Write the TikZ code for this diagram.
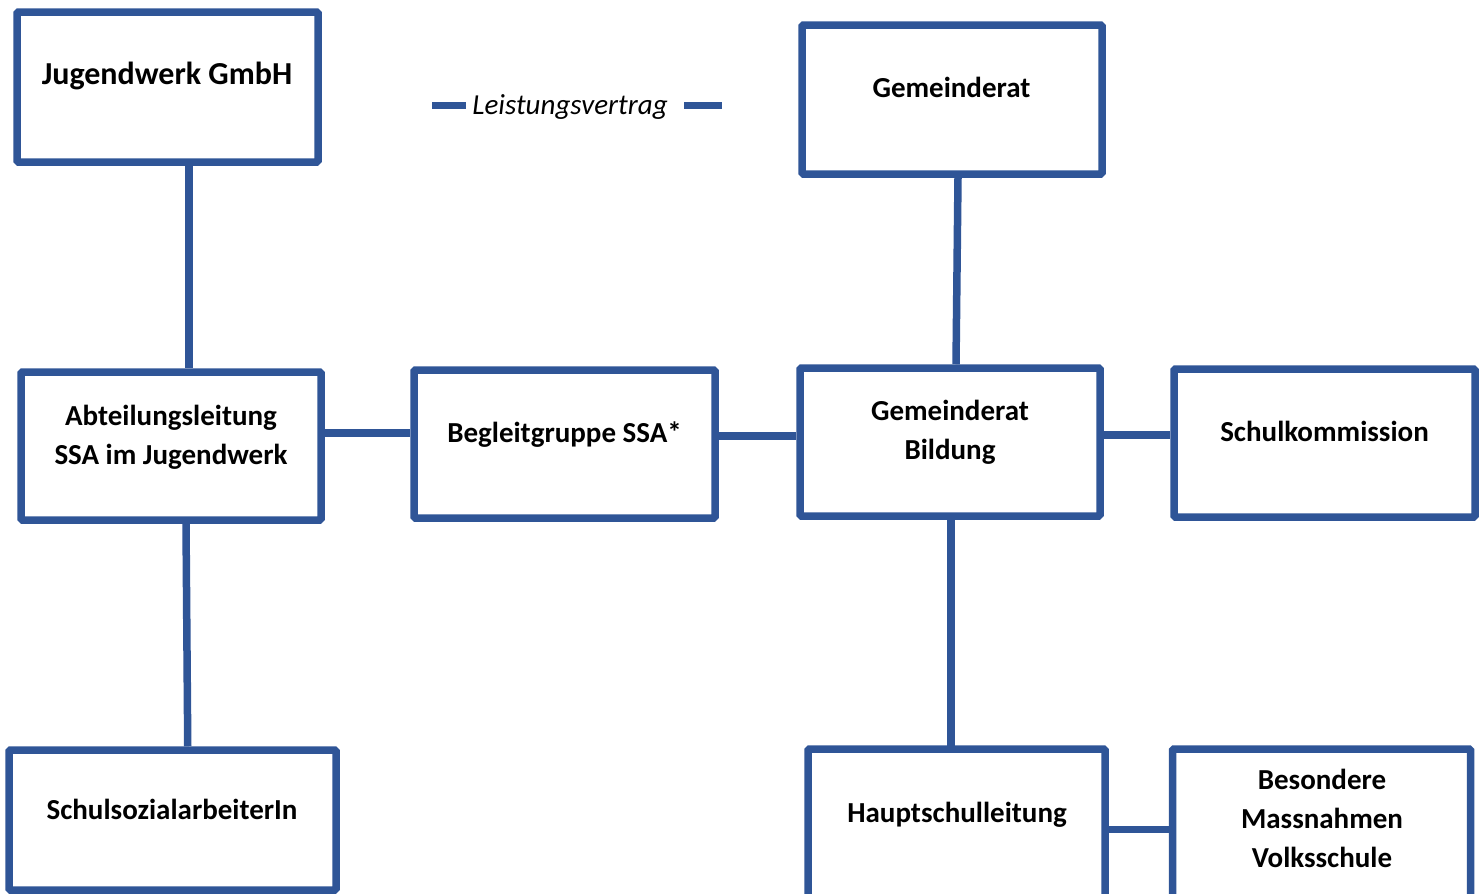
\documentclass[tikz,border=0pt]{standalone}
\usepackage{fontspec}
\setmainfont{Carlito}
\definecolor{ob}{RGB}{47,85,151}
\begin{document}
\begin{tikzpicture}[x=1pt,y=-1pt,
  box/.style={draw=ob, line width=7.5pt, rounded corners=1.5pt, fill=white, inner sep=0pt},
  lbl/.style={font=\fontsize{29}{39}\selectfont\bfseries, align=center, inner sep=0pt, anchor=base},
  conn/.style={draw=ob, line width=7.5pt}]
\useasboundingbox (0,0) rectangle (1483,894);

% boxes
\node[box, minimum width=301pt, minimum height=150pt] (jw) at (167.5,87) {};
\node[box, minimum width=300pt, minimum height=149pt] (gr) at (952,99.5) {};
\node[box, minimum width=300pt, minimum height=148pt] (al) at (171,446) {};
\node[box, minimum width=301pt, minimum height=148pt] (bg) at (564.5,444) {};
\node[box, minimum width=300pt, minimum height=148pt] (gb) at (950,442) {};
\node[box, minimum width=301pt, minimum height=148pt] (sk) at (1324.5,443) {};
\node[box, minimum width=327pt, minimum height=140pt] (ss) at (172.5,820) {};
\node[box, minimum width=297pt, minimum height=161pt] (hs) at (956.5,829.5) {};
\node[box, minimum width=298pt, minimum height=161pt] (bm) at (1321.5,829.5) {};

% texts (multi-line nodes: base = last line)
\node[lbl, font=\fontsize{32}{39}\selectfont\bfseries] (tjw) at (167,84) {Jugendwerk GmbH};
\node[lbl] (tgr) at (951.5,97) {Gemeinderat};
\node[lbl] (tal) at (171,464) {Abteilungsleitung\\SSA im Jugendwerk};
\node[lbl] (tbg) at (564.5,442) {Begleitgruppe SSA*};
\node[lbl] (tgb) at (950,459) {Gemeinderat\\Bildung};
\node[lbl] (tsk) at (1324.5,441) {Schulkommission};
\node[lbl] (tss) at (172,819) {SchulsozialarbeiterIn};
\node[lbl] (ths) at (957,822) {Hauptschulleitung};
\node[lbl] (tbm) at (1322,867) {Besondere\\Massnahmen\\Volksschule};

% legend
\node[font=\fontsize{29}{35}\selectfont\itshape, inner sep=0pt, anchor=base] (lv) at (570,114) {Leistungsvertrag};
\coordinate (la1) at (432,105);
\coordinate (la2) at (466,105);
\coordinate (lb1) at (684,105);
\coordinate (lb2) at (722,105);
\draw[conn, line width=7pt] (la1) -- (la2);
\draw[conn, line width=7pt] (lb1) -- (lb2);

% connectors
\draw[conn] ([xshift=21.5pt]jw.south) -- ([xshift=18pt]al.north);
\draw[conn] ([xshift=15pt]al.south) -- ([xshift=15.25pt]ss.north);
\draw[conn] ([yshift=13pt]al.east) -- ([yshift=11pt]bg.west);
\draw[conn] ([yshift=8pt]bg.east) -- ([yshift=6pt]gb.west);
\draw[conn] ([xshift=6pt]gr.south) -- ([xshift=6pt]gb.north);
\draw[conn] ([yshift=7pt]gb.east) -- ([yshift=8pt]sk.west);
\draw[conn] ([xshift=1pt]gb.south) -- ([xshift=-5.5pt,yshift=-4pt]hs.north);
\draw[conn] ([yshift=0pt]hs.east) -- ([yshift=0pt]bm.west);
\end{tikzpicture}
\end{document}
